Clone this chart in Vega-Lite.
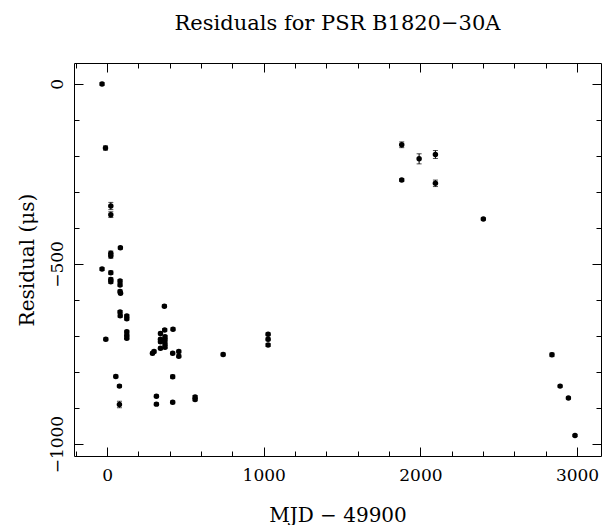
{
  "$schema": "https://vega.github.io/schema/vega-lite/v6.json",
  "autosize": {"type": "none"},
  "padding": {"left": 74, "top": 63, "right": 1, "bottom": 69},
  "width": 527,
  "height": 393,
  "background": "white",
  "title": {"text": "Residuals for PSR B1820−30A", "font": "DejaVu Serif", "fontSize": 21, "fontWeight": "normal", "anchor": "middle", "baseline": "alphabetic", "offset": 12, "color": "black"},
  "config": {
    "view": {"stroke": "black", "strokeWidth": 1},
    "axis": {"domain": false, "grid": false, "tickColor": "black", "tickWidth": 1, "labelColor": "black", "titleColor": "black", "labelFont": "DejaVu Serif", "labelFontSize": 17, "titleFont": "DejaVu Serif", "titleFontSize": 20, "titleFontWeight": "normal", "labelFlush": false, "labelOverlap": false, "format": "d"}
  },
  "data": {"values": [
    {"mjd": -32, "res": 0, "lo": -4, "hi": 4},
    {"mjd": -10, "res": -178, "lo": -184, "hi": -172},
    {"mjd": 24, "res": -339, "lo": -349, "hi": -329},
    {"mjd": 24, "res": -363, "lo": -371, "hi": -355},
    {"mjd": 85, "res": -455, "lo": -459, "hi": -451},
    {"mjd": 24, "res": -470, "lo": -476, "hi": -464},
    {"mjd": 24, "res": -478, "lo": -484, "hi": -472},
    {"mjd": -32, "res": -514, "lo": -518, "hi": -510},
    {"mjd": 24, "res": -524, "lo": -529, "hi": -519},
    {"mjd": 24, "res": -543, "lo": -548, "hi": -538},
    {"mjd": 24, "res": -549, "lo": -554, "hi": -544},
    {"mjd": 83, "res": -547, "lo": -551, "hi": -543},
    {"mjd": 83, "res": -558, "lo": -562, "hi": -554},
    {"mjd": 83, "res": -576, "lo": -580, "hi": -572},
    {"mjd": 86, "res": -581, "lo": -585, "hi": -577},
    {"mjd": 366, "res": -617, "lo": -621, "hi": -613},
    {"mjd": 83, "res": -633, "lo": -637, "hi": -629},
    {"mjd": 84, "res": -644, "lo": -648, "hi": -640},
    {"mjd": 126, "res": -644, "lo": -648, "hi": -640},
    {"mjd": 126, "res": -652, "lo": -656, "hi": -648},
    {"mjd": 126, "res": -688, "lo": -692, "hi": -684},
    {"mjd": 126, "res": -698, "lo": -702, "hi": -694},
    {"mjd": 126, "res": -706, "lo": -710, "hi": -702},
    {"mjd": 341, "res": -693, "lo": -697, "hi": -689},
    {"mjd": 368, "res": -683, "lo": -687, "hi": -679},
    {"mjd": 421, "res": -681, "lo": -685, "hi": -677},
    {"mjd": 341, "res": -709, "lo": -713, "hi": -705},
    {"mjd": 341, "res": -716, "lo": -720, "hi": -712},
    {"mjd": 370, "res": -702, "lo": -706, "hi": -698},
    {"mjd": 370, "res": -711, "lo": -715, "hi": -707},
    {"mjd": 370, "res": -722, "lo": -726, "hi": -718},
    {"mjd": 370, "res": -731, "lo": -735, "hi": -727},
    {"mjd": 341, "res": -734, "lo": -738, "hi": -730},
    {"mjd": -8, "res": -709, "lo": -713, "hi": -705},
    {"mjd": 290, "res": -748, "lo": -752, "hi": -744},
    {"mjd": 300, "res": -743, "lo": -747, "hi": -739},
    {"mjd": 419, "res": -748, "lo": -752, "hi": -744},
    {"mjd": 458, "res": -743, "lo": -747, "hi": -739},
    {"mjd": 458, "res": -756, "lo": -760, "hi": -752},
    {"mjd": 741, "res": -751, "lo": -755, "hi": -747},
    {"mjd": 56, "res": -812, "lo": -816, "hi": -808},
    {"mjd": 419, "res": -813, "lo": -818, "hi": -808},
    {"mjd": 79, "res": -839, "lo": -843, "hi": -835},
    {"mjd": 315, "res": -867, "lo": -871, "hi": -863},
    {"mjd": 562, "res": -869, "lo": -873, "hi": -865},
    {"mjd": 562, "res": -876, "lo": -880, "hi": -872},
    {"mjd": 315, "res": -889, "lo": -893, "hi": -885},
    {"mjd": 79, "res": -890, "lo": -899, "hi": -881},
    {"mjd": 419, "res": -884, "lo": -888, "hi": -880},
    {"mjd": 1028, "res": -695, "lo": -699, "hi": -691},
    {"mjd": 1028, "res": -709, "lo": -713, "hi": -705},
    {"mjd": 1028, "res": -725, "lo": -729, "hi": -721},
    {"mjd": 1881, "res": -169, "lo": -177, "hi": -161},
    {"mjd": 1992, "res": -208, "lo": -222, "hi": -194},
    {"mjd": 2096, "res": -196, "lo": -207, "hi": -185},
    {"mjd": 1881, "res": -267, "lo": -271, "hi": -263},
    {"mjd": 2096, "res": -276, "lo": -285, "hi": -267},
    {"mjd": 2402, "res": -375, "lo": -378, "hi": -372},
    {"mjd": 2840, "res": -752, "lo": -757, "hi": -747},
    {"mjd": 2892, "res": -839, "lo": -842, "hi": -836},
    {"mjd": 2945, "res": -872, "lo": -875, "hi": -869},
    {"mjd": 2987, "res": -976, "lo": -979, "hi": -973}
  ]},
  "resolve": {"axis": {"x": "independent", "y": "independent"}},
  "layer": [
    {
      "mark": {"type": "point", "filled": true, "shape": "circle", "size": 30, "color": "black", "opacity": 1},
      "encoding": {
        "x": {"field": "mjd", "type": "quantitative", "scale": {"domain": [-211, 3153], "nice": false, "zero": false},
          "axis": {"orient": "bottom", "values": [0, 1000, 2000, 3000], "format": "d", "tickSize": -9, "labelPadding": 20, "labelBaseline": "top", "title": "MJD − 49900", "titleX": 263.5, "titleY": 65, "titleAlign": "center", "titleBaseline": "alphabetic", "titleAngle": 0}},
        "y": {"field": "res", "type": "quantitative", "scale": {"domain": [-1033, 58], "nice": false, "zero": false},
          "axis": {"orient": "left", "values": [0, -500, -1000], "format": "d", "tickSize": -9, "labelPadding": 21, "labelAngle": -90, "labelAlign": "center", "labelBaseline": "alphabetic", "title": "Residual (μs)", "titleX": -41, "titleY": 196.5, "titleAngle": -90, "titleAlign": "center", "titleBaseline": "alphabetic"}}
      }
    },
    {
      "mark": {"type": "rule", "color": "black", "strokeWidth": 1},
      "encoding": {
        "x": {"field": "mjd", "type": "quantitative", "scale": {"domain": [-211, 3153], "nice": false, "zero": false},
          "axis": {"orient": "bottom", "values": [-200, 200, 400, 600, 800, 1200, 1400, 1600, 1800, 2200, 2400, 2600, 2800], "tickSize": -5, "labels": false, "title": null}},
        "y": {"field": "lo", "type": "quantitative", "scale": {"domain": [-1033, 58], "nice": false, "zero": false},
          "axis": {"orient": "left", "values": [-900, -800, -700, -600, -400, -300, -200, -100], "tickSize": -5, "labels": false, "title": null}},
        "y2": {"field": "hi"}
      }
    },
    {
      "mark": {"type": "tick", "orient": "horizontal", "color": "black", "size": 5, "thickness": 1},
      "encoding": {
        "x": {"field": "mjd", "type": "quantitative", "scale": {"domain": [-211, 3153], "nice": false, "zero": false},
          "axis": {"orient": "top", "values": [0, 1000, 2000, 3000], "tickSize": -9, "labels": false, "title": null}},
        "y": {"field": "lo", "type": "quantitative", "scale": {"domain": [-1033, 58], "nice": false, "zero": false},
          "axis": {"orient": "right", "values": [0, -500, -1000], "tickSize": -9, "labels": false, "title": null}}
      }
    },
    {
      "mark": {"type": "tick", "orient": "horizontal", "color": "black", "size": 5, "thickness": 1},
      "encoding": {
        "x": {"field": "mjd", "type": "quantitative", "scale": {"domain": [-211, 3153], "nice": false, "zero": false},
          "axis": {"orient": "top", "values": [-200, 200, 400, 600, 800, 1200, 1400, 1600, 1800, 2200, 2400, 2600, 2800], "tickSize": -5, "labels": false, "title": null}},
        "y": {"field": "hi", "type": "quantitative", "scale": {"domain": [-1033, 58], "nice": false, "zero": false},
          "axis": {"orient": "right", "values": [-900, -800, -700, -600, -400, -300, -200, -100], "tickSize": -5, "labels": false, "title": null}}
      }
    }
  ]
}
